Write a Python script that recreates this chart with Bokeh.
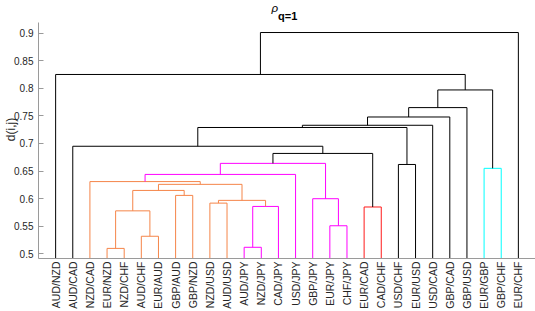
import math
from bokeh.plotting import figure
from bokeh.models import Range1d, FixedTicker, Label, ColumnDataSource
from bokeh.embed import file_html
from bokeh.resources import INLINE

leaf_labels = ["AUD/NZD", "AUD/CAD", "NZD/CAD", "EUR/NZD", "NZD/CHF", "AUD/CHF", "EUR/AUD",
               "GBP/AUD", "GBP/NZD", "NZD/USD", "AUD/USD", "AUD/JPY", "NZD/JPY", "CAD/JPY",
               "USD/JPY", "GBP/JPY", "EUR/JPY", "CHF/JPY", "EUR/CAD", "CAD/CHF", "USD/CHF",
               "EUR/USD", "USD/CAD", "GBP/CAD", "GBP/USD", "EUR/GBP", "GBP/CHF", "EUR/CHF"]

# linkage: node ids < 28 are leaves (in display order), node 28+k is merge k
merge_left = [3, 11, 5, 16, 28, 18, 29, 9, 35, 15, 7, 32, 39, 2, 41, 25, 20, 42, 45, 1, 47, 48, 49, 50, 51, 0, 53]
merge_right = [4, 12, 6, 17, 30, 19, 13, 10, 34, 31, 8, 38, 36, 40, 14, 26, 21, 37, 33, 46, 44, 22, 23, 24, 43, 52, 27]
merge_height = [0.510, 0.512, 0.532, 0.551, 0.578, 0.585, 0.586, 0.592, 0.597, 0.600,
                0.606, 0.615, 0.626, 0.631, 0.644, 0.655, 0.662, 0.664, 0.682, 0.695,
                0.729, 0.733, 0.748, 0.765, 0.797, 0.825, 0.901]
merge_color = ["orange", "magenta", "orange", "magenta", "orange", "red", "magenta", "orange",
               "orange", "magenta", "orange", "orange", "orange", "orange", "magenta", "cyan",
               "black", "magenta", "black", "black", "black", "black", "black", "black",
               "black", "black", "black"]

y_ticks = [0.5, 0.55, 0.6, 0.65, 0.7, 0.75, 0.8, 0.85, 0.9]
y_tick_labels = ["0.5", "0.55", "0.6", "0.65", "0.7", "0.75", "0.8", "0.85", "0.9"]

palette = {"orange": "#F58549", "magenta": "#FF00FF", "red": "#FF1A1A",
           "cyan": "#00FFFF", "black": "#000000"}

n = len(leaf_labels)
pos = [i + 1.0 for i in range(n)]
hgt = [0.0] * n
xs, ys, cols = [], [], []
for a, b, h, c in zip(merge_left, merge_right, merge_height, merge_color):
    xa, xb = pos[a], pos[b]
    xs.append([xa, xa, xb, xb])
    ys.append([hgt[a], h, h, hgt[b]])
    cols.append(palette[c])
    pos.append((xa + xb) / 2.0)
    hgt.append(h)

y_bottom, y_axis_top, y_top = 0.4917, 0.92, 0.959

p = figure(width=535, height=311, title=None,
           x_range=Range1d(0, 29), y_range=Range1d(y_bottom, y_top),
           output_backend="svg", toolbar_location=None,
           min_border_left=38, min_border_right=0, min_border_top=0, min_border_bottom=52)
p.xgrid.visible = False
p.ygrid.visible = False
p.outline_line_color = None
p.background_fill_color = "white"
p.border_fill_color = "white"

src = ColumnDataSource(dict(xs=xs, ys=ys, color=cols))
p.multi_line("xs", "ys", line_color="color", line_width=1, source=src)

axis_col = "#9a9a9a"
text_col = "#262626"

xa = p.xaxis[0]
xa.ticker = FixedTicker(ticks=[i + 1 for i in range(n)])
xa.major_label_overrides = {i + 1: lab for i, lab in enumerate(leaf_labels)}
xa.major_label_orientation = math.pi / 2
xa.major_tick_in = 0
xa.major_tick_out = 0
xa.minor_tick_line_color = None
xa.major_label_standoff = 3
xa.major_label_text_font = "Liberation Sans"
xa.major_label_text_font_size = "10.5px"
xa.major_label_text_color = text_col
xa.axis_line_color = axis_col

ya = p.yaxis[0]
ya.bounds = (y_bottom, y_axis_top)
ya.ticker = FixedTicker(ticks=y_ticks)
ya.major_label_overrides = {t: s for t, s in zip(y_ticks, y_tick_labels)}
ya.major_tick_in = 5
ya.major_tick_out = 0
ya.minor_tick_line_color = None
ya.major_tick_line_color = axis_col
ya.major_label_standoff = 5
ya.major_label_text_font = "Liberation Sans"
ya.major_label_text_font_size = "10px"
ya.major_label_text_color = text_col
ya.axis_line_color = axis_col
ya.axis_label = "d(i,j)"
ya.axis_label_text_font = "Liberation Sans"
ya.axis_label_text_font_style = "normal"
ya.axis_label_text_font_size = "12px"
ya.axis_label_text_color = text_col
ya.axis_label_standoff = -7

p.add_layout(Label(x=13.59, y=0.9460, text="ρ", text_font="Liberation Sans",
                   text_font_style="italic", text_font_size="11.5px", text_color="#000000",
                   text_baseline="alphabetic"))
p.add_layout(Label(x=13.98, y=0.9301, text="q=1", text_font="Liberation Sans",
                   text_font_style="bold", text_font_size="11px", text_color="#000000",
                   text_baseline="alphabetic"))

open("out.html", "w").write(file_html(p, INLINE))
